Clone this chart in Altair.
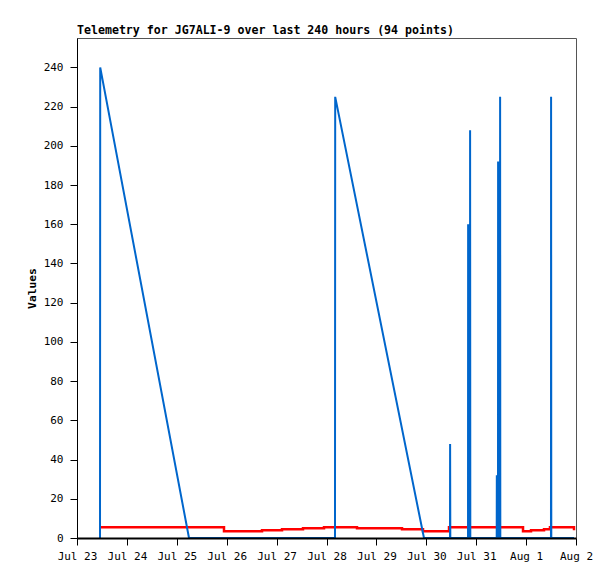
import altair as alt
import pandas as pd

# Blue series (sequence-like counter): timestamps and values
blue_times = [
    "2023-07-23T11:04", "2023-07-23T11:10", "2023-07-25T05:52",
    "2023-07-28T04:05", "2023-07-28T04:11", "2023-07-29T22:53",
    "2023-07-30T11:24", "2023-07-30T11:27", "2023-07-30T11:33",
    "2023-07-30T20:04", "2023-07-30T20:07", "2023-07-30T20:13",
    "2023-07-30T21:01", "2023-07-30T21:04", "2023-07-30T21:10",
    "2023-07-31T09:52", "2023-07-31T09:55", "2023-07-31T10:00",
    "2023-07-31T10:29", "2023-07-31T10:32", "2023-07-31T10:38",
    "2023-07-31T11:27", "2023-07-31T11:30", "2023-07-31T11:36",
    "2023-08-01T11:58", "2023-08-01T12:01", "2023-08-01T12:07",
    "2023-08-01T23:02",
]
blue_values = [
    0, 240, 0,
    0, 225, 0,
    0, 48, 0,
    0, 160, 0,
    0, 208, 0,
    0, 32, 0,
    0, 192, 0,
    0, 225, 0,
    0, 225, 0,
    0,
]

# Red series (voltage-like), drawn as steps
red_times = [
    "2023-07-23T11:04", "2023-07-25T22:42", "2023-07-26T16:59",
    "2023-07-27T02:36", "2023-07-27T12:42", "2023-07-27T22:48",
    "2023-07-28T14:40", "2023-07-29T12:19", "2023-07-29T22:25",
    "2023-07-30T10:55", "2023-07-31T22:31", "2023-08-01T02:22",
    "2023-08-01T08:37", "2023-08-01T11:29", "2023-08-01T23:02",
]
red_values = [5.5, 3.5, 4.0, 4.5, 5.0, 5.5, 5.0, 4.5, 3.5, 5.5, 3.5, 4.0, 4.5, 5.5, 4.0]

y_ticks = list(range(0, 241, 20))

blue_df = pd.DataFrame({"time": blue_times, "value": blue_values})
red_df = pd.DataFrame({"time": red_times, "value": red_values})

FONT = "DejaVu Sans Mono"

x_scale = alt.Scale(
    domain=[alt.DateTime(year=2023, month=7, date=23), alt.DateTime(year=2023, month=8, date=2)],
    nice=False,
)
y_scale = alt.Scale(domain=[0, 255], nice=False, zero=True)

x_axis = alt.Axis(
    title=None,
    format="%b %-d",
    tickCount={"interval": "day", "step": 1},
    tickSize=7,
    tickColor="black",
    domainColor="black",
    domainWidth=2,
    labelPadding=5,
    labelFlush=False,
    labelOverlap=False,
    labelAlign="center",
    labelFontSize=11,
    grid=False,
    zindex=1,
)
y_axis = alt.Axis(
    title="Values",
    values=y_ticks,
    tickSize=7,
    tickColor="black",
    domainColor="black",
    labelPadding=7,
    labelFontSize=11,
    grid=False,
    titleFont=FONT,
    titleFontWeight="bold",
    titleFontSize=11.3,
    titleAngle=270,
    titleX=-45,
    titleY=250,
    titleAlign="center",
    titleBaseline="middle",
    zindex=1,
)

red = alt.Chart(red_df).mark_line(
    color="#ff0000", strokeWidth=2.5, interpolate="step-after"
).encode(
    x=alt.X("time:T", scale=x_scale, axis=x_axis),
    y=alt.Y("value:Q", scale=y_scale, axis=y_axis),
)

blue = alt.Chart(blue_df).mark_line(
    color="#0066cc", strokeWidth=2
).encode(
    x=alt.X("time:T", scale=x_scale, axis=x_axis),
    y=alt.Y("value:Q", scale=y_scale, axis=y_axis),
)

chart = alt.layer(red, blue).properties(
    width=499,
    height=500,
    title=alt.TitleParams(
        "Telemetry for JG7ALI-9 over last 240 hours (94 points)",
        anchor="start",
        frame="group",
        font=FONT,
        fontSize=11.6,
        fontWeight="bold",
        color="black",
        baseline="alphabetic",
        offset=3,
        dy=11,
    ),
    autosize=alt.AutoSizeParams(type="none"),
    padding={"left": 69, "top": 30, "right": 30, "bottom": 33},
).configure_view(
    stroke="#555555", strokeWidth=1
).configure_axis(
    labelFont=FONT, labelColor="black"
)

chart.save("out.html", embed_options={"renderer": "svg", "actions": False})
